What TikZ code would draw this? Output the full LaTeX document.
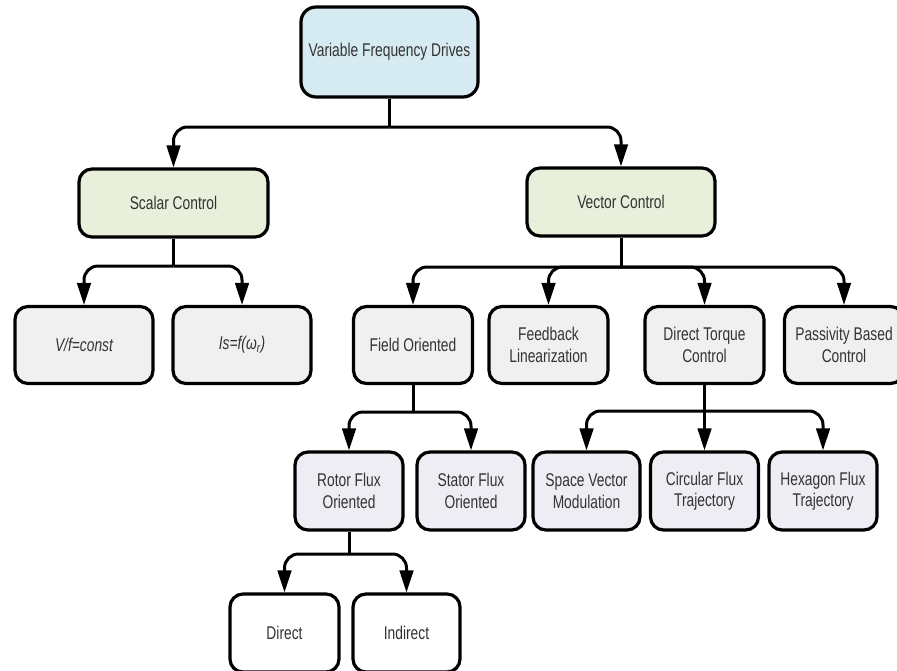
\documentclass[tikz,border=0pt]{standalone}
\usepackage{fontspec}
\setmainfont{Liberation Sans}[FakeStretch=0.75]
\usetikzlibrary{arrows.meta}
\definecolor{txt}{HTML}{333333}
\definecolor{blueF}{HTML}{D5EAF1}
\definecolor{greenF}{HTML}{E8F0DC}
\definecolor{greyF}{HTML}{F0F0F0}
\definecolor{lavF}{HTML}{EFEDF4}
\begin{document}
\begin{tikzpicture}[x=1pt,y=-1pt,
  box/.style={draw=black, line width=3.2pt, rounded corners=13pt, align=center,
    text=txt, font=\fontsize{18.4}{21.5}\selectfont, inner sep=0pt},
  topbox/.style={box, fill=blueF, minimum width=177pt, minimum height=90pt, rounded corners=15pt},
  lvone/.style={box, fill=greenF, minimum width=189pt, minimum height=68pt},
  lvtwo/.style={box, fill=greyF, minimum width=119pt, minimum height=77pt},
  lvsc/.style={box, fill=greyF, minimum width=138pt, minimum height=77pt},
  lvthree/.style={box, fill=lavF, minimum width=108pt, minimum height=78pt},
  lvfour/.style={box, fill=white, minimum width=108pt, minimum height=78pt},
  stem/.style={line width=3pt},
  conn/.style={line width=3pt, rounded corners=14pt, -{Triangle[length=22pt,width=13.5pt]}}]
\useasboundingbox (0,0) rectangle (897,670);
\begin{scope}
\clip (0,0) rectangle (897,670);
% nodes
\node[topbox] (vfd) at (389.5,52) {Variable Frequency Drives};
\node[lvone] (sc) at (173.5,203) {Scalar Control};
\node[lvone, minimum width=188pt] (vc) at (621,202) {Vector Control};
\node[lvsc] (vf) at (84,345) {\itshape V/f=const};
\node[lvsc] (is) at (242,345) {\itshape Is=f(ω\textsubscript{r})};
\node[lvtwo] (fo) at (413,345) {Field Oriented};
\node[lvtwo] (fb) at (548.5,345) {Feedback\\Linearization};
\node[lvtwo] (dtc) at (704.5,345) {Direct Torque\\Control};
\node[lvtwo] (pb) at (844,345) {Passivity Based\\Control};
\node[lvthree] (rfo) at (349,491) {Rotor Flux\\Oriented};
\node[lvthree] (sfo) at (471,491) {Stator Flux\\Oriented};
\node[lvthree, minimum width=107pt] (svm) at (586.5,491) {Space Vector\\Modulation};
\node[lvthree] (cft) at (704.5,491) {Circular Flux\\Trajectory};
\node[lvthree] (hft) at (823,491) {Hexagon Flux\\Trajectory};
\node[lvfour, minimum width=109pt] (dir) at (284.5,633) {Direct};
\node[lvfour, minimum width=107pt] (ind) at (406.5,633) {Indirect};
% junctions
\coordinate (j0) at (vfd.south |- 0,127);
\coordinate (j1) at (sc.south |- 0,266);
\coordinate (j2) at (vc.south |- 0,267);
\coordinate (j3) at (fo.south |- 0,412);
\coordinate (j4) at (dtc.south |- 0,411);
\coordinate (j5) at (rfo.south |- 0,554);
% connectors
\draw[stem] (vfd.south) -- (j0);
\draw[conn] (j0) -| (sc.north);
\draw[conn] (j0) -| (vc.north);
\draw[stem] (sc.south) -- (j1);
\draw[conn] (j1) -| (vf.north);
\draw[conn] (j1) -| (is.north);
\draw[stem] (vc.south) -- (j2);
\draw[conn] (j2) -| (fo.north);
\draw[conn] (j2) -| (fb.north);
\draw[conn] (j2) -| (dtc.north);
\draw[conn] (j2) -| (pb.north);
\draw[stem] (fo.south) -- (j3);
\draw[conn] (j3) -| (rfo.north);
\draw[conn] (j3) -| (sfo.north);
\draw[stem] (dtc.south) -- (j4);
\draw[conn] (j4) -| (svm.north);
\draw[conn] (j4) -- (cft.north);
\draw[conn] (j4) -| (hft.north);
\draw[stem] (rfo.south) -- (j5);
\draw[conn] (j5) -| (dir.north);
\draw[conn] (j5) -| (ind.north);
\end{scope}
\end{tikzpicture}
\end{document}
